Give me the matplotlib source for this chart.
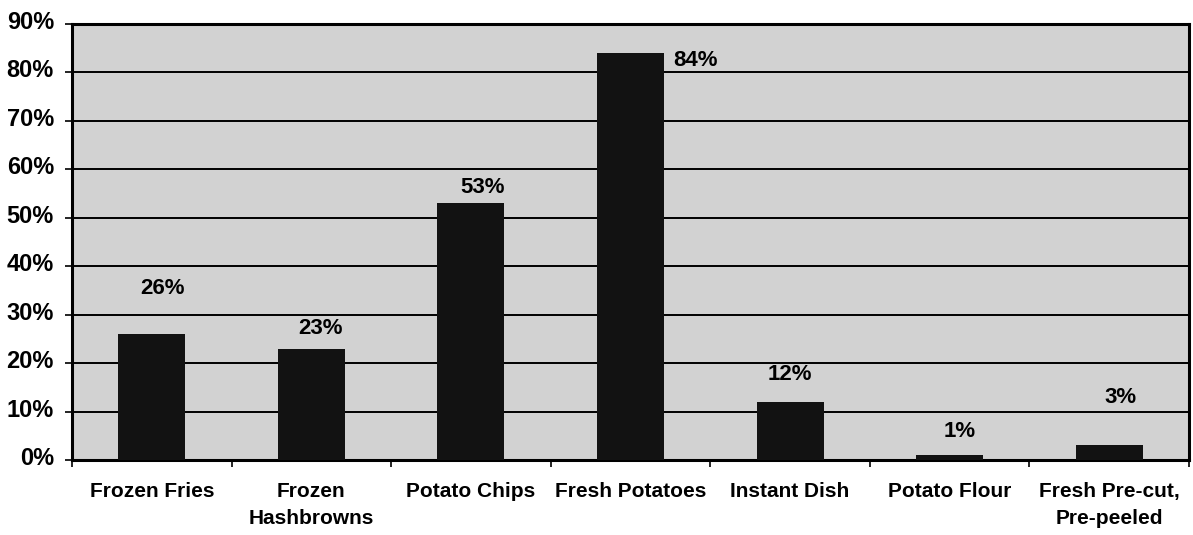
import matplotlib
matplotlib.use("Agg")
import matplotlib.pyplot as plt
import matplotlib.transforms as mtransforms
import numpy as np

categories = ["Frozen Fries", "Frozen\nHashbrowns", "Potato Chips", "Fresh Potatoes",
              "Instant Dish", "Potato Flour", "Fresh Pre-cut,\nPre-peeled"]
values = [26, 23, 53, 84, 12, 1, 3]
value_labels = ["26%", "23%", "53%", "84%", "12%", "1%", "3%"]
y_ticks = [0, 10, 20, 30, 40, 50, 60, 70, 80, 90]
y_tick_labels = ["0%", "10%", "20%", "30%", "40%", "50%", "60%", "70%", "80%", "90%"]

# label placement offsets (layout only)
label_dx = [0.065, 0.055, 0.07, 0.41, 0.0, 0.06, 0.07]
label_dy = [9.5, 4.2, 3.2, -1.6, 5.7, 4.8, 9.8]

plt.rcParams['font.family'] = ['Liberation Sans', 'DejaVu Sans']
fig = plt.figure(figsize=(11.93, 5.35), dpi=100)
ax = fig.add_axes([72/1193, 1-460/535, (1189-72)/1193, (460-24)/535])
ax.set_facecolor('#d2d2d2')

x = np.arange(len(categories))
ax.bar(x, values, width=0.42, color='#121212', zorder=3)
for xi, v, lab, dx, dy in zip(x, values, value_labels, label_dx, label_dy):
    ax.text(xi + dx, v + dy, lab, ha='center', va='center', fontsize=16,
            fontweight='bold', color='black', zorder=4)

ax.set_xlim(-0.5, len(categories) - 0.5)
ax.set_ylim(0, 90)
ax.set_yticks(y_ticks)
ax.set_yticklabels(y_tick_labels, fontsize=17, fontweight='bold')
ax.yaxis.grid(True, color='black', linewidth=1.4, zorder=1)
ax.set_axisbelow(True)

ax.set_xticks(x)
ax.set_xticklabels(categories, fontsize=15, fontweight='bold', linespacing=1.55)
ax.set_xticks(np.arange(-0.5, len(categories)), minor=True)
ax.tick_params(axis='x', which='major', length=0, pad=16)
ax.tick_params(axis='x', which='minor', length=5, width=1.2, direction='out')
ax.tick_params(axis='y', length=5, width=1.2, direction='out', pad=8)

shift = mtransforms.ScaledTranslation(0, 4/100, fig.dpi_scale_trans)
for t in ax.get_yticklabels():
    t.set_transform(t.get_transform() + shift)

for s in ax.spines.values():
    s.set_linewidth(2.2)
    s.set_color('black')

fig.savefig("out.png", dpi=100, facecolor='white')
